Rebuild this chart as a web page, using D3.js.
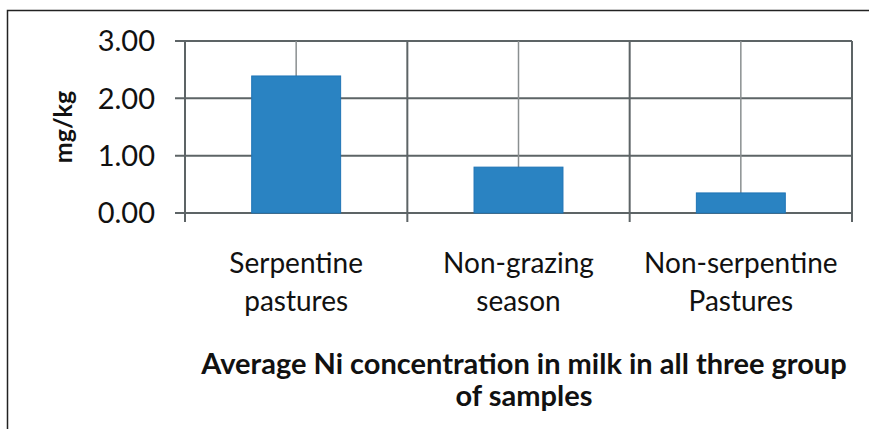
<!DOCTYPE html>
<html>
<head>
<meta charset="utf-8">
<script src="https://cdn.jsdelivr.net/npm/d3@7"></script>
<style>
  body { margin: 0; background: #fff; }
  text { font-family: Lato, "Open Sans", sans-serif; fill: #111; }
</style>
</head>
<body>
<script>
// data
var categories = ["Serpentine pastures", "Non-grazing season", "Non-serpentine Pastures"];
var labelLines = [["Serpentine", "pastures"], ["Non-grazing", "season"], ["Non-serpentine", "Pastures"]];
var values = [2.39, 0.80, 0.35];
var yTicks = [0, 1, 2, 3];
var yLabel = "mg/kg";
var titleLines = ["Average Ni concentration in milk in all three group", "of samples"];

var width = 869, height = 429;
var plot = {left: 185, right: 852, top: 41, bottom: 213};
var gridColor = "#5d6466";

var svg = d3.select("body").append("svg")
  .attr("width", width)
  .attr("height", height);

svg.append("rect")
  .attr("x", 7.5).attr("y", 10.5)
  .attr("width", width).attr("height", height)
  .attr("fill", "none")
  .attr("stroke", "#222")
  .attr("stroke-width", 1.5);

var x = d3.scaleBand()
  .domain(categories)
  .range([plot.left, plot.right])
  .paddingInner(0.6)
  .paddingOuter(0.3);

var cell = d3.scaleBand()
  .domain(categories)
  .range([plot.left, plot.right]);

var y = d3.scaleLinear()
  .domain([0, 3])
  .range([plot.bottom, plot.top]);

// horizontal grid + ticks
svg.append("g").selectAll("line")
  .data(yTicks)
  .join("line")
  .attr("x1", plot.left - 10).attr("x2", plot.right)
  .attr("y1", d => y(d)).attr("y2", d => y(d))
  .attr("stroke", gridColor).attr("stroke-width", 2);

// vertical lines at category centers
svg.append("g").selectAll("line")
  .data(categories)
  .join("line")
  .attr("x1", d => cell(d) + cell.bandwidth() / 2)
  .attr("x2", d => cell(d) + cell.bandwidth() / 2)
  .attr("y1", plot.top).attr("y2", plot.bottom)
  .attr("stroke", "#8a8f90").attr("stroke-width", 1.5);

// category boundaries (extend below as ticks)
var bounds = categories.map(d => cell(d)).concat([plot.right]);
svg.append("g").selectAll("line")
  .data(bounds)
  .join("line")
  .attr("x1", d => d).attr("x2", d => d)
  .attr("y1", plot.top).attr("y2", plot.bottom + 9)
  .attr("stroke", gridColor).attr("stroke-width", 2);

// bars
svg.append("g").selectAll("rect")
  .data(values)
  .join("rect")
  .attr("x", (d, i) => x(categories[i]))
  .attr("y", d => y(d))
  .attr("width", x.bandwidth())
  .attr("height", d => y(0) - y(d))
  .attr("fill", "#2a83c2")
  .attr("stroke", "#1f74b6")
  .attr("stroke-width", 1);

// y tick labels
svg.append("g").selectAll("text")
  .data(yTicks)
  .join("text")
  .attr("x", 155)
  .attr("y", d => y(d))
  .attr("dy", "0.36em")
  .attr("text-anchor", "end")
  .style("font-size", "29px")
  .text(d => d3.format(".2f")(d));

// y axis label
svg.append("text")
  .attr("transform", "translate(72,127) rotate(-90)")
  .attr("text-anchor", "middle")
  .style("font-size", "25px")
  .style("font-weight", "bold")
  .text(yLabel);

// category labels
var cat = svg.append("g").selectAll("text")
  .data(categories)
  .join("text")
  .attr("text-anchor", "middle")
  .style("font-size", "28px");
cat.selectAll("tspan")
  .data((d, i) => labelLines[i].map(t => ({t: t, c: d})))
  .join("tspan")
  .attr("x", d => cell(d.c) + cell.bandwidth() / 2)
  .attr("y", (d, j) => 273 + j * 38)
  .text(d => d.t);

// bottom title
svg.append("g").selectAll("text")
  .data(titleLines)
  .join("text")
  .attr("x", 524)
  .attr("y", (d, i) => 374 + i * 32)
  .attr("text-anchor", "middle")
  .style("font-size", "29px")
  .style("font-weight", "bold")
  .text(d => d);
</script>
</body>
</html>
